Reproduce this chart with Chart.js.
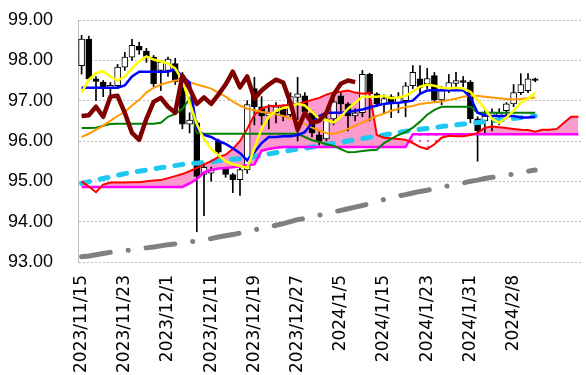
<!DOCTYPE html>
<html lang="ja">
<head>
<meta charset="UTF-8">
<title>一目均衡表</title>
<script src="https://cdn.jsdelivr.net/npm/chart.js"></script>
<style>
    html, body { margin: 0; padding: 0; background: #fff; }
</style>
</head>
<body>
<canvas id="myChart" width="586" height="375"></canvas>
<script>
    // 日付（最後の6本は先行スパンだけの未来日）
    const dates = [
        '2023/11/15','2023/11/16','2023/11/17','2023/11/20','2023/11/21','2023/11/22','2023/11/23','2023/11/24','2023/11/27','2023/11/28',
        '2023/11/29','2023/11/30','2023/12/1','2023/12/4','2023/12/5','2023/12/6','2023/12/7','2023/12/8','2023/12/11','2023/12/12',
        '2023/12/13','2023/12/14','2023/12/15','2023/12/18','2023/12/19','2023/12/20','2023/12/21','2023/12/22','2023/12/25','2023/12/26',
        '2023/12/27','2023/12/28','2023/12/29','2024/1/2','2024/1/3','2024/1/4','2024/1/5','2024/1/8','2024/1/9','2024/1/10',
        '2024/1/11','2024/1/12','2024/1/15','2024/1/16','2024/1/17','2024/1/18','2024/1/19','2024/1/22','2024/1/23','2024/1/24',
        '2024/1/25','2024/1/26','2024/1/29','2024/1/30','2024/1/31','2024/2/1','2024/2/2','2024/2/5','2024/2/6','2024/2/7',
        '2024/2/8','2024/2/9','2024/2/12','2024/2/13','2024/2/14','2024/2/15','2024/2/16','2024/2/19','2024/2/20','2024/2/21'
    ];
    const yTicks = [93, 94, 95, 96, 97, 98, 99];

    // ローソク足
    const opens = [
        97.87, 98.53, 97.54, 97.46, 97.32, 97.37, 97.83, 98.08, 98.35, 98.23,
        98.08, 97.75, 97.75, 97.92, 97.60, 96.42, 96.45, 95.17, 95.20, 96.00,
        95.30, 95.17, 95.04, 95.28, 97.30, 96.85, 96.62, 96.70, 96.85, 96.65,
        97.08, 97.12, 96.70, 96.15, 96.05, 96.55, 97.12, 96.92, 96.62, 96.70,
        97.65, 97.17, 96.92, 97.10, 96.95, 97.00, 97.37, 97.54, 97.42, 97.62,
        97.02, 97.30, 97.43, 97.50, 97.46, 96.55, 96.50, 96.62, 96.60, 96.75,
        96.92, 97.20, 97.25, 97.54
    ];
    const highs = [
        98.62, 98.60, 97.60, 97.50, 97.45, 97.90, 98.20, 98.52, 98.45, 98.30,
        98.12, 98.00, 98.08, 98.05, 97.70, 96.70, 96.50, 95.40, 95.35, 96.05,
        95.35, 95.20, 95.32, 97.00, 97.58, 97.10, 96.90, 96.95, 96.90, 97.20,
        97.58, 97.20, 96.75, 96.25, 96.70, 97.05, 97.20, 96.95, 96.80, 97.75,
        97.68, 97.20, 97.15, 97.15, 97.20, 97.45, 97.87, 97.87, 97.80, 97.70,
        97.35, 97.65, 97.70, 97.60, 97.50, 96.60, 96.75, 96.80, 96.80, 96.95,
        97.40, 97.67, 97.67, 97.56
    ];
    const lows = [
        97.66, 97.50, 97.00, 97.10, 97.05, 97.30, 97.75, 98.00, 98.15, 97.95,
        97.35, 97.25, 97.60, 97.40, 96.30, 96.20, 93.75, 94.15, 95.00, 95.60,
        95.10, 94.72, 94.65, 95.20, 96.40, 96.40, 96.30, 96.45, 96.50, 96.60,
        96.00, 96.60, 96.10, 95.90, 96.00, 96.40, 96.70, 96.25, 96.50, 96.60,
        96.50, 96.85, 96.70, 96.58, 96.70, 96.60, 97.30, 97.20, 97.30, 96.95,
        96.90, 97.20, 97.33, 97.35, 96.45, 95.50, 96.20, 96.25, 96.40, 96.55,
        96.85, 97.15, 97.20, 97.47
    ];
    const closes = [
        98.53, 97.54, 97.48, 97.32, 97.38, 97.83, 98.08, 98.37, 98.25, 98.10,
        97.42, 97.95, 98.03, 97.47, 96.42, 96.52, 95.12, 95.35, 95.28, 95.72,
        95.17, 95.04, 95.29, 96.90, 96.85, 96.62, 96.70, 96.85, 96.62, 97.10,
        97.17, 96.72, 96.20, 96.00, 96.55, 96.97, 96.92, 96.62, 96.70, 97.65,
        97.17, 96.92, 97.05, 96.95, 97.08, 97.37, 97.70, 97.33, 97.55, 97.02,
        97.25, 97.45, 97.50, 97.45, 96.55, 96.25, 96.62, 96.72, 96.70, 96.92,
        97.20, 97.40, 97.54, 97.50
    ];

    // 転換線
    const tenkan = [
        97.32, 97.32, 97.32, 97.32, 97.32, 97.32, 97.38, 97.60, 97.72, 97.72,
        97.72, 97.72, 97.72, 97.78, 97.60, 97.45, 96.30, 96.15, 96.10, 96.00,
        95.93, 95.82, 95.70, 95.52, 95.72, 95.95, 96.10, 96.10, 96.12, 96.12,
        96.15, 96.22, 96.45, 96.62, 96.70, 96.70, 96.70, 96.72, 96.75, 96.78,
        96.83, 96.88, 96.92, 96.94, 96.95, 96.97, 97.00, 97.17, 97.25, 97.26,
        97.26, 97.26, 97.26, 97.26, 97.08, 96.70, 96.63, 96.62, 96.62, 96.62,
        96.62, 96.58, 96.58, 96.60
    ];
    // 基準線
    const kijun = [
        96.32, 96.32, 96.33, 96.38, 96.42, 96.43, 96.43, 96.43, 96.43, 96.43,
        96.43, 96.45, 96.60, 96.67, 96.80, 97.05, 96.20, 96.18, 96.18, 96.18,
        96.18, 96.18, 96.18, 96.18, 96.18, 96.18, 96.18, 96.18, 96.18, 96.18,
        96.18, 96.10, 96.02, 95.98, 95.92, 95.88, 95.80, 95.72, 95.73, 95.75,
        95.77, 95.78, 95.95, 96.05, 96.15, 96.22, 96.33, 96.48, 96.65, 96.77,
        96.85, 96.85, 96.85, 96.85, 96.85, 96.70, 96.70, 96.70, 96.70, 96.70,
        96.70, 96.70, 96.70, 96.70
    ];
    // 先行スパン1
    const senkouA = [
        95.00, 94.87, 94.73, 94.92, 94.97, 94.97, 94.97, 94.98, 94.98, 95.00,
        95.02, 95.03, 95.08, 95.13, 95.18, 95.25, 95.33, 95.42, 95.50, 95.60,
        95.66, 95.80, 96.00, 96.30, 96.65, 96.80, 96.87, 96.87, 96.88, 96.90,
        96.92, 96.96, 97.02, 97.07, 97.15, 97.20, 97.22, 97.25, 97.20, 97.17,
        97.20, 96.15, 96.08, 96.07, 96.05, 96.03, 95.95, 95.85, 95.80, 95.92,
        96.08, 96.13, 96.12, 96.12, 96.15, 96.20, 96.33, 96.36, 96.34, 96.32,
        96.30, 96.28, 96.27, 96.23, 96.28, 96.28, 96.30, 96.45, 96.60, 96.60
    ];
    // 先行スパン2
    const senkouB = [
        94.86, 94.86, 94.86, 94.86, 94.86, 94.86, 94.86, 94.86, 94.86, 94.86,
        94.86, 94.86, 94.86, 94.86, 94.86, 94.95, 95.05, 95.22, 95.28, 95.32,
        95.33, 95.35, 95.37, 95.40, 95.42, 95.76, 95.80, 95.83, 95.85, 95.85,
        95.85, 95.85, 95.85, 95.85, 95.85, 95.85, 95.85, 95.85, 95.85, 95.85,
        95.85, 95.85, 95.85, 95.85, 95.85, 95.85, 96.17, 96.17, 96.17, 96.17,
        96.17, 96.17, 96.17, 96.17, 96.17, 96.17, 96.17, 96.17, 96.17, 96.17,
        96.17, 96.17, 96.17, 96.17, 96.17, 96.17, 96.17, 96.17, 96.17, 96.17
    ];
    // 遅行スパン
    const chikou = [
        96.62, 96.64, 96.85, 96.60, 97.10, 97.12, 96.70, 96.20, 96.03, 96.55,
        96.97, 97.07, 96.85, 96.70, 97.62, 97.30, 96.92, 97.08, 96.92, 97.15,
        97.40, 97.72, 97.33, 97.60, 97.05, 97.25, 97.40, 97.52, 97.45, 96.95,
        96.28, 96.70, 96.45, 96.50, 96.70, 97.15, 97.42, 97.50, 97.46
    ];
    // 移動平均
    const ma5 = [
        97.20, 97.52, 97.68, 97.73, 97.60, 97.50, 97.60, 97.80, 97.98, 98.10,
        98.02, 97.97, 97.92, 97.80, 97.50, 96.95, 96.42, 96.05, 95.80, 95.65,
        95.50, 95.42, 95.38, 95.33, 95.82, 96.30, 96.60, 96.75, 96.82, 96.85,
        96.92, 96.88, 96.72, 96.55, 96.52, 96.46, 96.60, 96.80, 96.95, 97.10,
        97.10, 97.10, 97.12, 97.06, 97.08, 97.12, 97.22, 97.35, 97.40, 97.37,
        97.32, 97.30, 97.32, 97.30, 97.22, 97.02, 96.80, 96.55, 96.45, 96.58,
        96.75, 96.95, 97.05, 97.20
    ];
    const ma25 = [
        96.10, 96.18, 96.28, 96.38, 96.50, 96.62, 96.72, 96.88, 97.02, 97.20,
        97.32, 97.40, 97.45, 97.50, 97.52, 97.46, 97.40, 97.35, 97.30, 97.20,
        97.10, 96.98, 96.88, 96.80, 96.76, 96.72, 96.70, 96.66, 96.62, 96.56,
        96.50, 96.42, 96.33, 96.26, 96.20, 96.18, 96.22, 96.30, 96.38, 96.46,
        96.54, 96.62, 96.68, 96.75, 96.80, 96.84, 96.87, 96.92, 96.94, 96.96,
        96.98, 97.02, 97.05, 97.10, 97.12, 97.12, 97.10, 97.08, 97.06, 97.04,
        97.03, 97.04, 97.06, 97.08
    ];
    const ma75 = [
        94.95, 94.99, 95.03, 95.07, 95.11, 95.15, 95.19, 95.22, 95.25, 95.28,
        95.31, 95.34, 95.36, 95.39, 95.42, 95.44, 95.45, 95.47, 95.49, 95.51,
        95.53, 95.55, 95.56, 95.58, 95.61, 95.64, 95.68, 95.71, 95.74, 95.77,
        95.80, 95.82, 95.85, 95.88, 95.91, 95.94, 95.97, 96.00, 96.03, 96.06,
        96.09, 96.12, 96.15, 96.18, 96.21, 96.24, 96.26, 96.29, 96.31, 96.33,
        96.36, 96.38, 96.40, 96.42, 96.44, 96.46, 96.48, 96.50, 96.52, 96.54,
        96.56, 96.58, 96.60, 96.62
    ];
    const ma200 = [
        93.13, 93.15, 93.18, 93.21, 93.24, 93.26, 93.28, 93.30, 93.32, 93.35,
        93.37, 93.40, 93.43, 93.45, 93.47, 93.50, 93.52, 93.55, 93.58, 93.62,
        93.65, 93.68, 93.72, 93.76, 93.80, 93.83, 93.87, 93.91, 93.95, 94.00,
        94.05, 94.08, 94.12, 94.16, 94.20, 94.24, 94.28, 94.32, 94.36, 94.40,
        94.45, 94.50, 94.55, 94.60, 94.64, 94.67, 94.71, 94.75, 94.78, 94.82,
        94.86, 94.89, 94.93, 94.96, 95.00, 95.03, 95.07, 95.10, 95.12, 95.15,
        95.18, 95.21, 95.25, 95.28
    ];

    // 雲のねじれ部分（白地にピンクの点）
    function dotPattern() {
        const c = document.createElement('canvas');
        c.width = 8;
        c.height = 6;
        const g = c.getContext('2d');
        g.fillStyle = '#ffffff';
        g.fillRect(0, 0, 8, 6);
        g.fillStyle = '#ff55dd';
        g.beginPath();
        g.arc(4, 3, 1.3, 0, Math.PI * 2);
        g.fill();
        return g.createPattern(c, 'repeat');
    }

    function line(label, data, color, width, order, extra) {
        return Object.assign({
            type: 'line',
            label: label,
            data: data,
            borderColor: color,
            borderWidth: width,
            pointRadius: 0,
            tension: 0,
            fill: false,
            order: order
        }, extra || {});
    }

    const ctx = document.getElementById('myChart').getContext('2d');

    const datasets = [
        {
            type: 'bar',
            label: '高安',
            data: lows.map((l, i) => [l, highs[i]]),
            backgroundColor: '#000000',
            barThickness: 1,
            grouped: false,
            order: 20
        },
        {
            type: 'bar',
            label: '始終',
            data: opens.map((o, i) => [o, closes[i]]),
            backgroundColor: opens.map((o, i) => closes[i] >= o ? '#ffffff' : '#000000'),
            borderColor: '#000000',
            borderWidth: 1,
            borderSkipped: false,
            barThickness: 6,
            grouped: false,
            order: 19
        },
        line('200日線', ma200, '#808080', 5, 10, { borderDash: [29, 18, 0.1, 18], borderCapStyle: 'round' }),
        line('75日線', ma75, '#1ec8f0', 5, 9, { borderDash: [8, 11], borderCapStyle: 'round' }),
        line('先行スパン2', senkouB, '#ff00ff', 2.5, 8),
        line('先行スパン1', senkouA, '#ff0000', 2, 7, {
            fill: { target: 4, above: '#fb9bcb', below: dotPattern() }
        }),
        line('基準線', kijun, '#008000', 2, 6),
        line('25日線', ma25, '#ff9900', 2, 5),
        line('転換線', tenkan, '#0000ff', 2.5, 4),
        line('5日線', ma5, '#ffff00', 2.5, 3),
        line('遅行スパン', chikou, '#800000', 4.5, 2, { borderJoinStyle: 'round' })
    ];

    new Chart(ctx, {
        type: 'bar',
        data: { labels: dates, datasets: datasets },
        options: {
            responsive: false,
            animation: false,
            layout: { padding: { left: 8, right: 4, top: 20, bottom: 0 } },
            plugins: {
                legend: { display: false },
                tooltip: { enabled: false },
                filler: { drawTime: 'beforeDatasetsDraw' }
            },
            scales: {
                x: {
                    offset: true,
                    grid: { display: false },
                    border: { display: false },
                    ticks: {
                        autoSkip: false,
                        minRotation: 90,
                        maxRotation: 90,
                        padding: 5,
                        color: '#000000',
                        font: { family: 'DejaVu Sans', size: 17 },
                        callback: function (v, i) {
                            return (i % 6 === 0 && i <= 60) ? dates[i] : '';
                        }
                    },
                    afterFit: function (scale) {
                        scale.height = 113;
                        scale.paddingLeft = 0;
                        scale.paddingRight = 0;
                    }
                },
                y: {
                    min: yTicks[0],
                    max: yTicks[yTicks.length - 1],
                    afterBuildTicks: function (scale) {
                        scale.ticks = yTicks.map(v => ({ value: v }));
                    },
                    grid: { color: '#bdbdbd', lineWidth: 1, drawTicks: false },
                    border: { display: true, color: '#c0c0c0', width: 1, dash: [2, 2] },
                    ticks: {
                        padding: 25,
                        color: '#000000',
                        font: { family: 'Liberation Sans', size: 18 },
                        callback: function (v) { return Number(v).toFixed(2); }
                    },
                    afterFit: function (scale) {
                        scale.width = 70;
                        scale.paddingTop = 0;
                        scale.paddingBottom = 0;
                    }
                }
            }
        }
    });
</script>
</body>
</html>
